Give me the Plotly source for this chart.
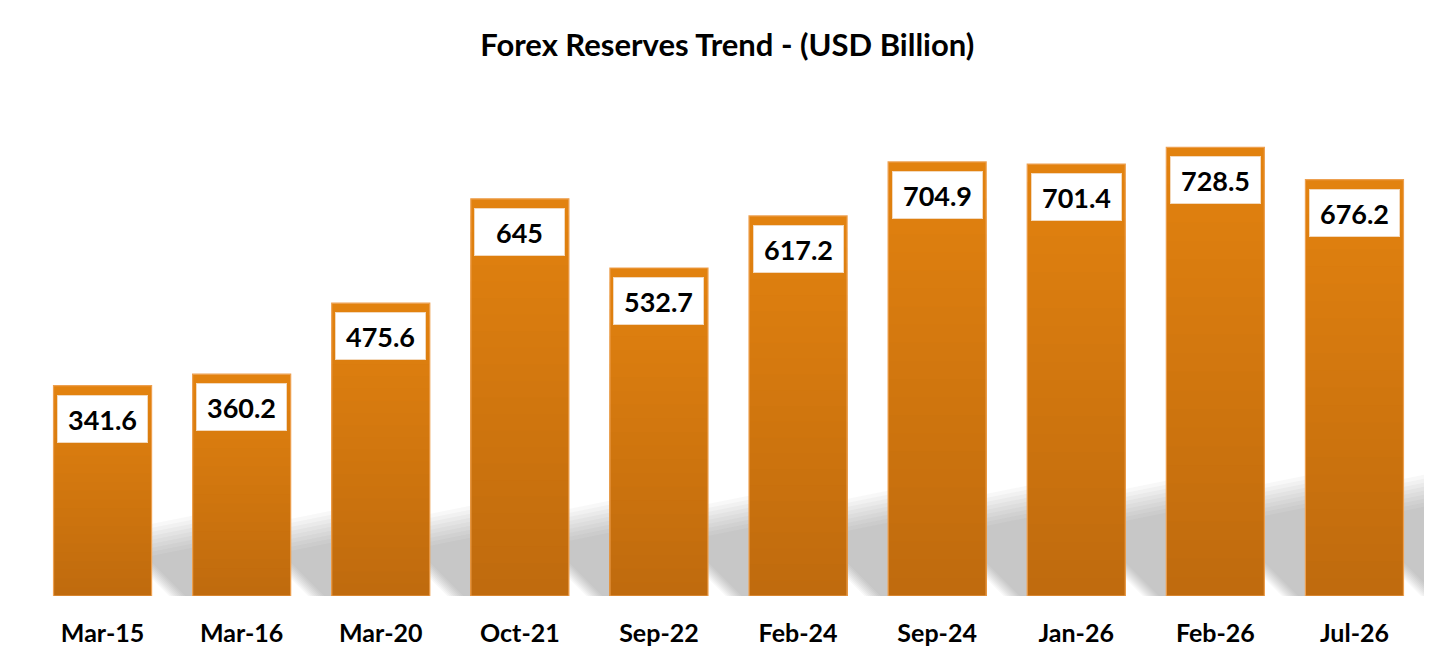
import plotly.graph_objects as go

# Forex reserves, USD billion
periods = ["Mar-15", "Mar-16", "Mar-20", "Oct-21", "Sep-22",
           "Feb-24", "Sep-24", "Jan-26", "Feb-26", "Jul-26"]
reserves = [341.6, 360.2, 475.6, 645, 532.7, 617.2, 704.9, 701.4, 728.5, 676.2]
labels = ["341.6", "360.2", "475.6", "645", "532.7",
          "617.2", "704.9", "701.4", "728.5", "676.2"]

TOP = (226, 130, 15)
BOTTOM = (192, 107, 14)
N_SEG = 24
Y_MAX = 838
PX_Y = 516 / Y_MAX      # pixels per unit on y
PX_X = 139.0            # pixels per category

fig = go.Figure()

# fake vertical gradient: overlay bars, each shorter one a bit darker
for k in range(N_SEG):
    t = 1 - k / (N_SEG - 1)
    c = tuple(round(BOTTOM[i] + (TOP[i] - BOTTOM[i]) * t) for i in range(3))
    fig.add_trace(go.Bar(
        x=periods,
        y=[v * (N_SEG - k) / N_SEG for v in reserves],
        marker=dict(color="rgb(%d,%d,%d)" % c, line=dict(width=0)),
        hoverinfo="skip",
        showlegend=False,
    ))

# thin light outline
fig.add_trace(go.Bar(
    x=periods, y=reserves,
    marker=dict(color="rgba(0,0,0,0)", line=dict(color="#EDA050", width=1.2)),
    showlegend=False,
))

# soft grey shadows in the gaps (decoration only), stacked thin layers = blur
shapes = []
for i in range(len(periods)):
    xr = i + 0.35
    for dh in range(16, -17, -4):
        hl = (56 + 5 * i + dh) / PX_Y
        hr = hl + 14 / PX_Y
        cut = 26 + dh * 0.5
        shapes.append(dict(
            type="path", layer="below", xref="x", yref="y",
            path="M %f,%f L %f,0 L %f,0 L %f,%f L %f,%f Z" % (
                xr, cut / PX_Y, xr + cut / PX_X, xr + 0.5, xr + 0.5, hr, xr, hl),
            fillcolor="rgba(100,100,100,0.042)", line=dict(width=0),
        ))

annotations = []
for p, v, s in zip(periods, reserves, labels):
    annotations.append(dict(
        x=p, y=v, xref="x", yref="y", text="<b>%s</b>" % s, showarrow=False,
        yanchor="top", yshift=-9, width=89, height=46, borderpad=0,
        bgcolor="white", bordercolor="#F3D9BC", borderwidth=1,
        font=dict(family="Lato", size=27, color="black"),
    ))

fig.update_layout(
    barmode="overlay",
    bargap=0.295,
    width=1456, height=668,
    margin=dict(l=25, r=40, t=72, b=80),
    plot_bgcolor="white", paper_bgcolor="white",
    title=dict(text="<b>Forex Reserves Trend - (USD Billion)</b>",
               x=0.494, xanchor="center", y=0.945, yanchor="middle",
               font=dict(family="Lato", size=31, color="black")),
    xaxis=dict(showgrid=False, showline=False, ticks="", range=[-0.5, 9.5],
               tickfont=dict(family="Lato", size=25, color="black", weight="bold"),
               ticklabelstandoff=20),
    yaxis=dict(visible=False, range=[0, Y_MAX]),
    shapes=shapes,
    annotations=annotations,
)

fig.write_html("out.html")
